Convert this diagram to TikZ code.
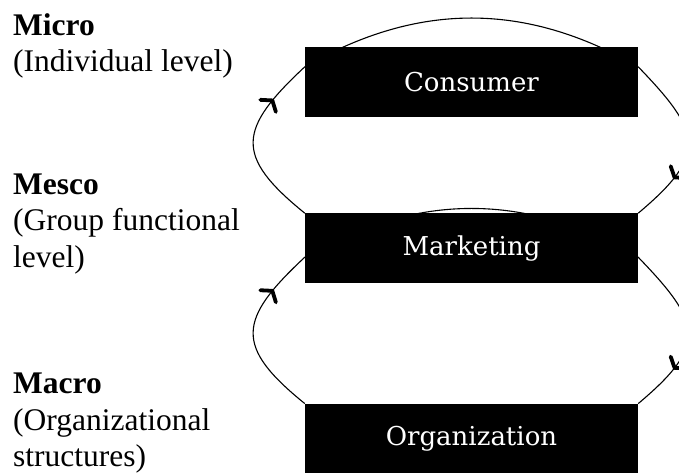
\documentclass[tikz,border=0pt]{standalone}
\usepackage{fontspec}
\setmainfont{Liberation Serif}
\newfontfamily\boxfont{DejaVu Serif}
\usetikzlibrary{positioning,calc,backgrounds}

\tikzset{
  levelbox/.style={fill=black,text=white,minimum width=333pt,minimum height=70pt,inner sep=0pt,font=\boxfont\fontsize{26}{30}\selectfont},
  scalelabel/.style={anchor=base west,align=left,inner sep=0pt,font=\fontsize{31.5}{36.5}\selectfont},
  loopline/.style={line width=1.1pt},
  chevron/.style={line width=3.8pt,line join=round,line cap=round}
}

\begin{document}
\begin{tikzpicture}[x=1pt,y=1pt,node distance=96pt]
\useasboundingbox (0,0) rectangle (679,472);
\clip (0,0) rectangle (679,472);
\node[levelbox] (cons) at (471.5,390) {Consumer};
\node[levelbox,below=of cons] (mark) {Marketing};
\node[levelbox,below=of mark,yshift=-24pt] (org) {Organization};
\node[scalelabel] (micro) at (13,400) {\textbf{Micro}\\(Individual level)};
\node[scalelabel] (mesco) at (13,205) {\textbf{Mesco}\\(Group functional\\level)};
\node[scalelabel] (macro) at (13,5.5) {\textbf{Macro}\\(Organizational\\structures)};
\begin{pgfonlayer}{background}
\foreach \upper/\lower/\dy in {cons/mark/20,mark/org/44}{
  \coordinate (\upper-w) at ([yshift=-\dy pt]\upper.north west);
  \coordinate (\upper-e) at ([yshift=-\dy pt]\upper.north east);
  \draw[loopline] (\upper-w) to[out=30,in=150] (\upper-e);
  \draw[loopline] (\lower.north west) to[out=141,in=223,looseness=1.6]
    coordinate[pos=0.76] (\upper-lt) coordinate[pos=0.80] (\upper-lh) (\upper-w);
  \draw[loopline] (\upper-e) to[out=-46,in=40,looseness=1.6]
    coordinate[pos=0.73] (\upper-rt) coordinate[pos=0.77] (\upper-rh) (\lower.north east);
  \foreach \side in {l,r}
    \draw[chevron] ($(\upper-\side h)!12pt!55:(\upper-\side t)$) -- (\upper-\side h)
      -- ($(\upper-\side h)!12pt!-55:(\upper-\side t)$);
}
\end{pgfonlayer}
\end{tikzpicture}
\end{document}
